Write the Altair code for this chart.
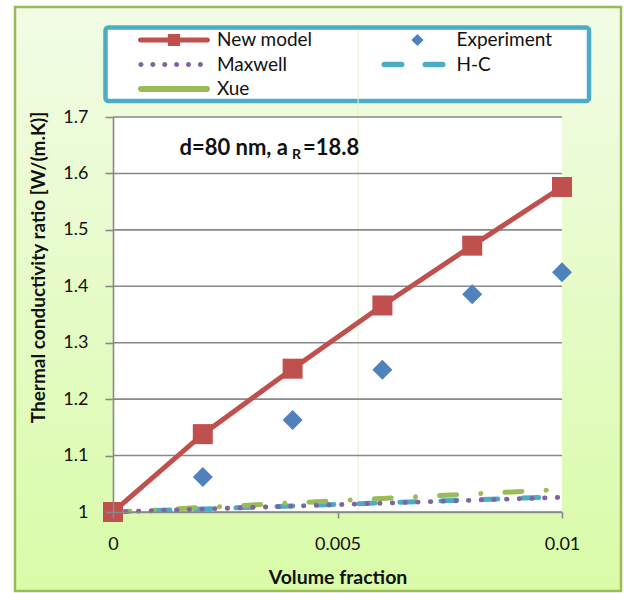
import altair as alt
import pandas as pd

# ---------------- data ----------------
volume_fraction = [0, 0.002, 0.004, 0.006, 0.008, 0.01]
new_model = [1.0, 1.138, 1.254, 1.366, 1.472, 1.576]
experiment_fraction = [0.002, 0.004, 0.006, 0.008, 0.01]
experiment = [1.062, 1.163, 1.252, 1.386, 1.425]
maxwell = [1.0, 1.0052, 1.0104, 1.0156, 1.0208, 1.026]
hc = [1.0, 1.0054, 1.0108, 1.0162, 1.0216, 1.027]
xue = [1.0, 1.008, 1.016, 1.024, 1.032, 1.040]

# legend order (Vega fills the 2-column grid column by column)
series_names = ["New model", "Maxwell", "Xue", "Experiment", "H-C"]
series_colors = ["#c0504d", "#8064a2", "#9bbb59", "#4f81bd", "#4bacc6"]
x_ticks = [0, 0.005, 0.01]
y_ticks = [1.0, 1.1, 1.2, 1.3, 1.4, 1.5, 1.6, 1.7]
annotation = ["d=80 nm, a", "R", "=18.8"]
x_title = "Volume fraction"
y_title = "Thermal conductivity ratio [W/(m.K)]"
faint_line_x = [0.00546]

# ---------------- styling helpers ----------------
W, H = 449, 395
FONT = "Lato"
GRAY = "#898989"
TXT = "#111111"


def f(v):
    return f"{v:.4f}".rstrip("0").rstrip(".")


def bar(x1, x2, h):
    """rounded horizontal bar (legend line symbol) in unit coords"""
    a, b = x1 + h, x2 - h
    return (f"M{f(a)},{f(-h)}H{f(b)}A{f(h)},{f(h)} 0 0 1 {f(b)},{f(h)}"
            f"H{f(a)}A{f(h)},{f(h)} 0 0 1 {f(a)},{f(-h)}Z")


def dot(cx, r):
    return (f"M{f(cx - r)},0A{f(r)},{f(r)} 0 1 1 {f(cx + r)},0"
            f"A{f(r)},{f(r)} 0 1 1 {f(cx - r)},0Z")


shape_new = bar(-1, 1, 0.07) + "M-0.17,-0.17H0.17V0.17H-0.17Z"
shape_exp = "M0.11,-0.17L0.28,0L0.11,0.17L-0.06,0Z"
shape_max = "".join(dot(c, 0.07) for c in [-0.917, -0.587, -0.257, 0.073, 0.403, 0.733])
shape_hc = bar(-0.89, -0.25, 0.075) + bar(0.25, 0.89, 0.075)
shape_xue = bar(-1, 1, 0.08)
series_shapes = [shape_new, shape_max, shape_xue, shape_exp, shape_hc]

xscale = alt.Scale(domain=[0, 0.01], nice=False, zero=False)
yscale = alt.Scale(domain=[1.0, 1.7], nice=False, zero=False)

xaxis = alt.Axis(values=x_ticks, format="~g", grid=False, labelFlush=False,
                 domainColor=GRAY, domainWidth=1.6, tickColor=GRAY, tickWidth=1.6,
                 tickSize=6, labelFont=FONT, labelFontSize=18, labelColor=TXT,
                 labelPadding=17, title=x_title, titleFont=FONT, titleFontSize=19.5,
                 titleFontWeight="bold", titleColor=TXT, titleY=65,
                 titleBaseline="middle", zindex=1)
yaxis = alt.Axis(values=y_ticks, format="~g", grid=False, labelFlush=False,
                 domainColor=GRAY, domainWidth=1.6, tickColor=GRAY, tickWidth=1.6,
                 tickSize=8, labelFont=FONT, labelFontSize=18, labelColor=TXT,
                 labelPadding=17, title=y_title, titleFont=FONT, titleFontSize=19,
                 titleFontWeight="bold", titleColor=TXT, titleX=-75, titleY=150,
                 titleAngle=270, titleAlign="center", titleBaseline="middle",
                 zindex=1)

one = pd.DataFrame({"k": [0]})

gradient = alt.LinearGradient(
    gradient="linear",
    stops=[alt.GradientStop(color="#f2fce6", offset=0),
           alt.GradientStop(color="#d9fba8", offset=1)],
    x1=0, x2=0, y1=0, y2=1)

# decorative chart frame and legend box
frame = alt.Chart(one).mark_rect(fill=gradient, stroke="#9bbb59", strokeWidth=2.5).encode(
    x=alt.value(-98), x2=alt.value(508), y=alt.value(-110), y2=alt.value(474))
legend_box = alt.Chart(one).mark_rect(
    fill="white", stroke="#4bacc6", strokeWidth=4.5, cornerRadius=3).encode(
    x=alt.value(-7.5), x2=alt.value(476), y=alt.value(-89.5), y2=alt.value(-16))

plot_bg = alt.Chart(one).mark_rect(fill="white").encode(
    x=alt.XDatum(0, scale=xscale, axis=xaxis), x2=alt.X2Datum(0.01),
    y=alt.YDatum(1.0, scale=yscale, axis=yaxis), y2=alt.Y2Datum(1.7))

faint = alt.Chart(pd.DataFrame({"x": faint_line_x})).mark_rule(
    color="#e2f6c4", strokeWidth=1).encode(
    x=alt.X("x:Q", scale=xscale, axis=xaxis), y=alt.value(-87), y2=alt.value(H + 5))

grid = alt.Chart(pd.DataFrame({"v": y_ticks})).mark_rule(
    color=GRAY, strokeWidth=1.6).encode(
    y=alt.Y("v:Q", scale=yscale, axis=yaxis), x=alt.value(0), x2=alt.value(W))

models = pd.DataFrame({"x": volume_fraction, "new": new_model, "maxwell": maxwell,
                       "hc": hc, "xue": xue})
exp_df = pd.DataFrame({"x": experiment_fraction, "y": experiment})


def xy(ycol):
    return dict(x=alt.X("x:Q", scale=xscale, axis=xaxis),
                y=alt.Y(f"{ycol}:Q", scale=yscale, axis=yaxis))


hc_line = alt.Chart(models).mark_line(
    color="#4bacc6", strokeWidth=5, strokeCap="round", strokeDash=[16, 25]).encode(**xy("hc"))
xue_line = alt.Chart(models).mark_line(
    color="#9bbb59", strokeWidth=5, strokeCap="round",
    strokeDash=[17, 24.2, 0.1, 24.1]).encode(**xy("xue"))
max_line = alt.Chart(models).mark_line(
    color="#8064a2", strokeWidth=4.8, strokeCap="round",
    strokeDash=[0.5, 12.2]).encode(**xy("maxwell"))

new_line = alt.Chart(models).mark_line(color="#c0504d", strokeWidth=5).encode(**xy("new"))
new_pts = alt.Chart(models).mark_point(shape="square", filled=True, size=400,
                                       color="#c0504d", opacity=1).encode(**xy("new"))
exp_pts = alt.Chart(exp_df).mark_point(shape="diamond", filled=True, size=400,
                                       color="#4f81bd", opacity=1).encode(**xy("y"))

leg = alt.Legend(
    title=None, orient="none", legendX=-7.5, legendY=-90, columns=2,
    symbolSize=5184, symbolStrokeWidth=0, clipHeight=22, rowPadding=2.5,
    symbolOffset=30.5, labelOffset=7,
    columnPadding=34.5, padding=2, labelFont=FONT, labelFontSize=19,
    labelColor=TXT, labelLimit=400, symbolOpacity=1)

legend_layer = alt.Chart(pd.DataFrame({"series": series_names})).mark_point(
    filled=True, opacity=0).encode(
    color=alt.Color("series:N", scale=alt.Scale(domain=series_names, range=series_colors),
                    legend=leg),
    shape=alt.Shape("series:N", scale=alt.Scale(domain=series_names, range=series_shapes),
                    legend=leg))

txt_kw = dict(font=FONT, fontWeight="bold", color=TXT, baseline="alphabetic")
ann1 = alt.Chart(one).mark_text(text=annotation[0], align="right", fontSize=22, **txt_kw).encode(
    x=alt.value(175), y=alt.value(38))
ann2 = alt.Chart(one).mark_text(text=annotation[1], align="left", fontSize=14, **txt_kw).encode(
    x=alt.value(179), y=alt.value(42))
ann3 = alt.Chart(one).mark_text(text=annotation[2], align="left", fontSize=22, **txt_kw).encode(
    x=alt.value(190), y=alt.value(38))

chart = alt.layer(
    frame, legend_box, plot_bg, faint, grid, hc_line, xue_line, max_line, new_line,
    new_pts, exp_pts, legend_layer, ann1, ann2, ann3
).properties(
    width=W, height=H,
    padding={"left": 113, "top": 117, "right": 62, "bottom": 81},
    autosize=alt.AutoSizeParams(type="none"),
    background="white",
).configure_view(strokeWidth=0)

chart.save("out.html", embed_options={"renderer": "svg", "actions": False})
